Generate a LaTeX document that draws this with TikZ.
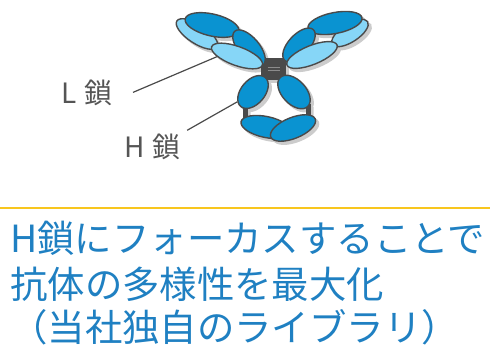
\documentclass[tikz,border=0pt]{standalone}
\usepackage{fontspec}
\setmainfont{Noto Sans CJK JP}
\usetikzlibrary{shapes.geometric, positioning}

\definecolor{hblue}{HTML}{0A93D1}
\definecolor{lblue}{HTML}{86D6F7}
\definecolor{edge}{HTML}{4A4A4A}
\definecolor{bondgray}{HTML}{8C8C8C}
\definecolor{labelgray}{HTML}{555555}
\definecolor{textblue}{HTML}{1F80C2}
\definecolor{rulegold}{HTML}{F8C61E}

\tikzset{
  domain/.style n args={3}{ellipse, draw=edge, line width=1.4pt, inner sep=0pt,
    minimum width=#1, minimum height=#2, rotate=#3},
  heavy/.style n args={3}{domain={#1}{#2}{#3}, fill=hblue},
  light/.style n args={3}{domain={#1}{#2}{#3}, fill=lblue},
  hingebox/.style={rectangle, fill=edge, inner sep=0pt},
  link/.style={draw=edge, line width=5pt},
  bond/.style={draw=bondgray, line width=0.8pt},
  leader/.style={draw=edge, line width=1.2pt},
  chainlabel/.style={text=labelgray, font=\fontsize{28}{28}\selectfont, inner sep=0pt, anchor=base west},
  notetext/.style={text=textblue, font=\fontsize{37.4}{46}\selectfont, inner sep=0pt, anchor=base west},
}

% one antibody: hinge, Fab arms and Fc
\newcommand{\antibodyparts}{%
  \node[hingebox, minimum width=25pt, minimum height=22pt] (hinge) at (273.5,69) {};
  \draw[bond] (hinge.center) ++(-6,-1.5) -- ++(12,0);
  \draw[bond] (hinge.center) ++(-6,1.5) -- ++(12,0);
  \draw[link] (245,103) -- (245,120);
  \draw[link] (308,104) -- (308,120);
  % left Fab
  \node[light={48}{19}{-33}] (vlL) at (197,34) {};
  \node[heavy={55}{22}{-13}] (vhL) at (212,25) {};
  \node[heavy={44}{21}{-50}] (chL) at (249,48) {};
  \node[light={54}{19}{-20}] (clL) at (237,56) {};
  % right Fab
  \node[light={42}{18}{33}] (vlR) at (350,33) {};
  \node[heavy={55}{21}{11}] (vhR) at (335,23) {};
  \node[heavy={42}{21}{47}] (chR) at (299,45) {};
  \node[light={54}{19}{22}] (clR) at (312,55) {};
  % Fc
  \node[heavy={38}{24}{50}] (chtwoL) at (253,92) {};
  \node[heavy={40}{24}{-47}] (chtwoR) at (294,92) {};
  \node[heavy={51}{21}{-12}] (chthreeL) at (266,127) {};
  \node[heavy={48}{21}{22}] (chthreeR) at (293,128) {};
}

\begin{document}
\begin{tikzpicture}[x=1pt, y=-1pt]
  \useasboundingbox (0,0) rectangle (490,345);

  % shadow first, then the molecule
  \begin{scope}[shift={(3,3)}, transparency group, opacity=0.2]
    \colorlet{hblue}{black}\colorlet{lblue}{black}
    \colorlet{edge}{black}\colorlet{bondgray}{black}
    \antibodyparts
  \end{scope}
  \antibodyparts

  % chain labels
  \node[chainlabel] (lchain) at (61,103) {L\hspace{0.3em}鎖};
  \node[chainlabel] (hchain) at (124,157) {H\hspace{0.3em}鎖};
  \coordinate[right=20pt of lchain] (lfoot);
  \coordinate[above right=3pt and 6pt of hchain.north east] (hfoot);
  \draw[leader] (lfoot) -- (clL.202);
  \draw[leader] (hfoot) -- (chtwoL.162);

  % separator and caption
  \draw[rulegold, line width=2pt] (0,208) -- (490,208);
  \node[notetext] (line1) at (10,252) {H鎖にフォーカスすることで};
  \node[notetext] (line2) at (10,298) {抗体の多様性を最大化};
  \node[notetext] (line3) at (10,341) {（当社独自のライブラリ）};
\end{tikzpicture}
\end{document}
